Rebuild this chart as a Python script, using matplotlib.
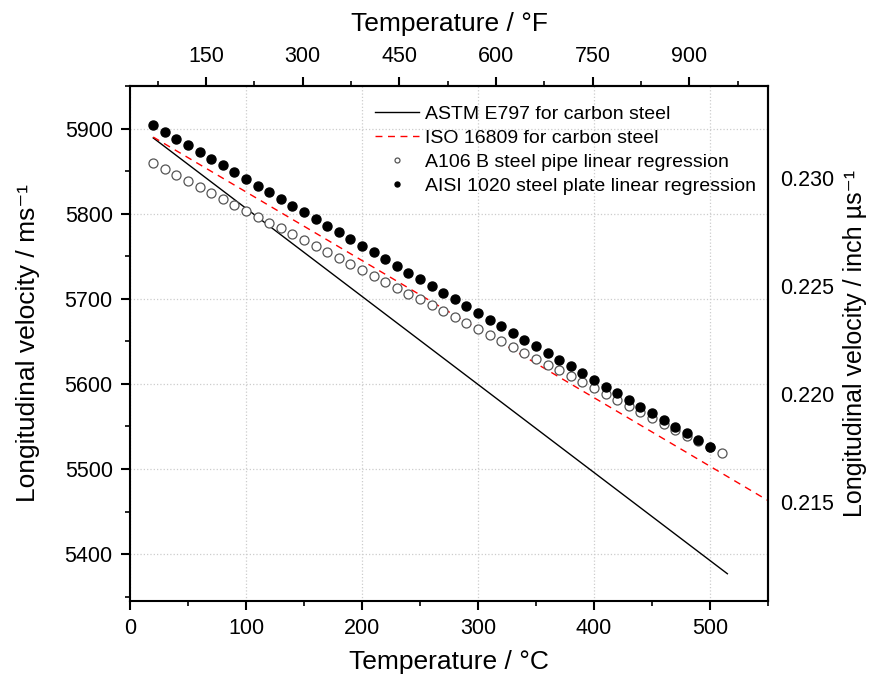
import matplotlib
matplotlib.use("Agg")
import matplotlib.pyplot as plt
from matplotlib.ticker import MultipleLocator, FormatStrFormatter

plt.rcParams['font.family'] = ['Liberation Sans', 'DejaVu Sans']

# ASTM E797 / ISO 16809 reference lines (end points)
astm_t = [20, 515]
astm_v = [5889, 5377]
iso_t = [20, 550]
iso_v = [5890, 5463]

# A106 B steel pipe linear regression (open circles)
pipe_t = [20, 30, 40, 50, 60, 70, 80, 90, 100, 110, 120, 130, 140, 150, 160, 170,
          180, 190, 200, 210, 220, 230, 240, 250, 260, 270, 280, 290, 300, 310,
          320, 330, 340, 350, 360, 370, 380, 390, 400, 410, 420, 430, 440, 450,
          460, 470, 480, 490, 500, 510]
pipe_v = [5859.0, 5852.1, 5845.1, 5838.2, 5831.2, 5824.3, 5817.3, 5810.4, 5803.4,
          5796.5, 5789.5, 5782.6, 5775.6, 5768.7, 5761.7, 5754.8, 5747.8, 5740.9,
          5733.9, 5727.0, 5720.0, 5713.1, 5706.1, 5699.2, 5692.2, 5685.3, 5678.3,
          5671.4, 5664.4, 5657.5, 5650.5, 5643.6, 5636.6, 5629.7, 5622.7, 5615.8,
          5608.8, 5601.9, 5594.9, 5588.0, 5581.0, 5574.1, 5567.1, 5560.2, 5553.2,
          5546.3, 5539.3, 5532.4, 5525.4, 5518.5]

# AISI 1020 steel plate linear regression (filled circles)
plate_t = [20, 30, 40, 50, 60, 70, 80, 90, 100, 110, 120, 130, 140, 150, 160, 170,
           180, 190, 200, 210, 220, 230, 240, 250, 260, 270, 280, 290, 300, 310,
           320, 330, 340, 350, 360, 370, 380, 390, 400, 410, 420, 430, 440, 450,
           460, 470, 480, 490, 500]
plate_v = [5904.0, 5896.1, 5888.3, 5880.4, 5872.5, 5864.6, 5856.8, 5848.9, 5841.0,
           5833.1, 5825.3, 5817.4, 5809.5, 5801.6, 5793.8, 5785.9, 5778.0, 5770.1,
           5762.3, 5754.4, 5746.5, 5738.6, 5730.8, 5722.9, 5715.0, 5707.1, 5699.3,
           5691.4, 5683.5, 5675.6, 5667.8, 5659.9, 5652.0, 5644.1, 5636.3, 5628.4,
           5620.5, 5612.6, 5604.8, 5596.9, 5589.0, 5581.1, 5573.3, 5565.4, 5557.5,
           5549.6, 5541.8, 5533.9, 5526.0]

fig = plt.figure(figsize=(8.71, 6.88), dpi=100)
ax = fig.add_axes([0.1493, 0.1265, 0.7324, 0.7485])

l1, = ax.plot(astm_t, astm_v, color='black', lw=1.0, label='ASTM E797 for carbon steel')
l2, = ax.plot(iso_t, iso_v, color='red', lw=1.0, ls=(0, (5, 4)), label='ISO 16809 for carbon steel')
p1, = ax.plot(pipe_t, pipe_v, 'o', ms=6.5, mfc='white', mec='#555555', mew=0.9, ls='none',
              label='A106 B steel pipe linear regression')
p2, = ax.plot(plate_t, plate_v, 'o', ms=6.5, mfc='black', mec='black', ls='none',
              label='AISI 1020 steel plate linear regression')

ax.set_xlim(0, 550)
ax.set_ylim(5345, 5950)
ax.xaxis.set_major_locator(MultipleLocator(100))
ax.xaxis.set_minor_locator(MultipleLocator(50))
ax.yaxis.set_major_locator(MultipleLocator(100))
ax.yaxis.set_minor_locator(MultipleLocator(50))
ax.grid(True, which='major', color='#cccccc', ls=':', lw=0.9)

ax.set_xlabel('Temperature / \u00b0C', fontsize=19, labelpad=8)
ax.set_ylabel('Longitudinal velocity / ms\u207b\u00b9', fontsize=19, labelpad=18)

for s in ax.spines.values():
    s.set_linewidth(1.5)
ax.tick_params(which='major', direction='out', length=6.5, width=1.5, labelsize=15.5, pad=6)
ax.tick_params(which='minor', direction='out', length=3.6, width=1.2)

# top axis in Fahrenheit
top = ax.secondary_xaxis('top', functions=(lambda c: c * 1.8 + 32, lambda f: (f - 32) / 1.8))
top.xaxis.set_major_locator(MultipleLocator(150))
top.xaxis.set_minor_locator(MultipleLocator(75))
top.set_xticks([150, 300, 450, 600, 750, 900])
top.set_xlabel('Temperature / \u00b0F', fontsize=19, labelpad=11)
top.tick_params(which='major', direction='out', length=6.5, width=1.5, labelsize=15.5, pad=7)
top.tick_params(which='minor', direction='out', length=3.6, width=1.2)
top.spines['top'].set_linewidth(1.5)

# right axis in inch per microsecond, labels only
right = ax.secondary_yaxis('right', functions=(lambda v: v / 25400.0, lambda u: u * 25400.0))
right.set_yticks([0.215, 0.220, 0.225, 0.230])
right.yaxis.set_major_formatter(FormatStrFormatter('%.3f'))
right.set_ylabel('Longitudinal velocity / inch \u00b5s\u207b\u00b9', fontsize=18, labelpad=6)
right.tick_params(which='major', direction='out', length=0, labelsize=15.5, pad=9)
right.tick_params(which='minor', length=0)
right.spines['right'].set_linewidth(1.5)

ax.legend(handles=[l1, l2, p1, p2], loc='upper right', frameon=False, fontsize=14,
          markerscale=0.55, handlelength=2.3, handletextpad=0.3, labelspacing=0.33,
          borderaxespad=0.2, bbox_to_anchor=(1.0, 0.985))

fig.savefig('out.png', dpi=100)
